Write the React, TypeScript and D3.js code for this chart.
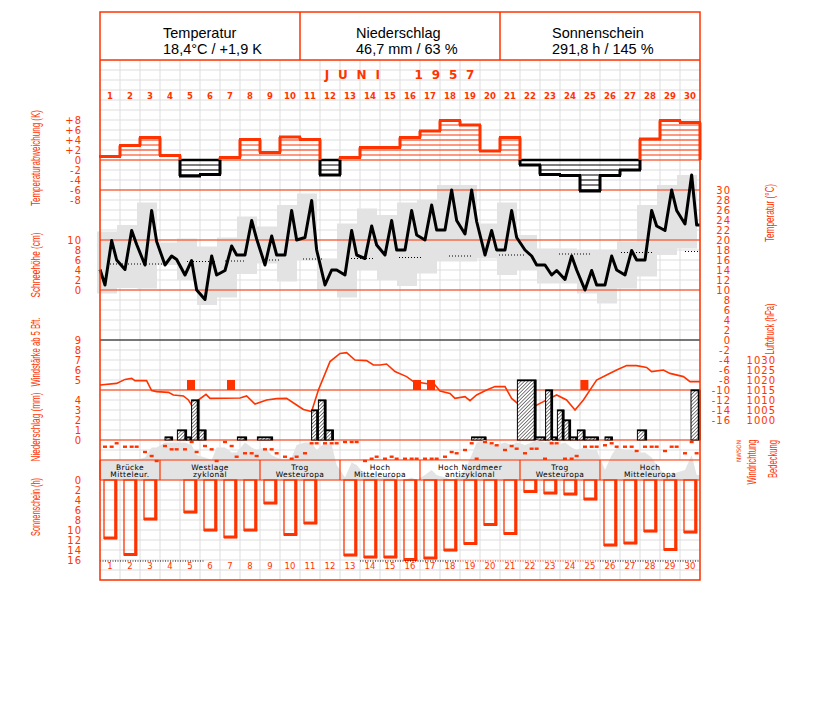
import React from "react";
import * as d3 from "d3";

// ---------------- DATA ----------------
const days = d3.range(1, 31);
const obsFrac = [0.25, 0.583, 0.833]; // 7h, 14h, 21h

const headerTitles = ["Temperatur", "Niederschlag", "Sonnenschein"];
const headerValues = ["18,4°C / +1,9 K", "46,7 mm / 63 %", "291,8 h / 145 %"];
const monthTitle = "JUNI  1957";

// daily temperature deviation (K)
const tempDev = [0.7, 2.9, 4.5, 0.9, -3.2, -2.9, 0.5, 4.1, 1.5, 4.6, 4.1, -3.0, 0.5, 2.5, 2.5, 4.5, 5.8, 7.9, 7.0, 1.8, 4.5, -1.0, -2.9, -3.1, -6.2, -3.1, -2.0, 4.2, 7.9, 7.5];

// temperature at 7h, 14h, 21h (°C)
const tempStart = 14.1;
const tempObs = [
  [11, 19.9, 16], [14.1, 21.9, 19.1], [15, 25.9, 19.7], [15, 16.8, 16.1], [13, 15.9, 10],
  [8.1, 16.8, 13], [13.9, 18.8, 17], [17, 23.9, 20.2], [15, 20.8, 17], [17, 25.9, 20],
  [20.5, 27.9, 18], [11, 14, 14], [13, 21.9, 17], [16.3, 22.8, 19], [17, 23.9, 18],
  [18, 25.9, 21], [20, 27, 22], [22, 30, 23.9], [21.2, 30, 23.7], [17, 21.9, 18],
  [18, 25.9, 20.5], [18, 16.8, 15], [15, 13, 13.9], [12.1, 16.8, 14], [10, 13.9, 11],
  [11, 16.8, 14], [13, 17.9, 16], [16, 25.9, 22.8], [21.9, 30, 25.9], [23.2, 33, 23],
];
// daily min / max (gray boxes)
const tempMin = [9.3, 10.4, 10.3, 15, 12, 7, 8.5, 13.2, 15.3, 11.7, 16, 10, 8.5, 14, 12, 10.8, 13.3, 15.7, 15.7, 16.3, 13, 14, 11.3, 11.3, 9.3, 7.3, 10.3, 12.7, 17, 18.3];
const tempMax = [21.7, 23, 27.5, 19.5, 20.3, 18.7, 20.5, 24.7, 22.7, 27, 29.3, 16.3, 23.3, 26.3, 25, 27.5, 28, 31, 31, 23.3, 27.5, 21, 18.3, 18.3, 18, 18, 19.7, 27, 31, 33];
// long-term normal (dotted)
const normStart = [0.5, 4.35, 6.25, 8.15, 10.15, 12.4, 14.95, 17.45, 19.95, 22.95, 26.05, 29.25];
const normEnd = [3.15, 5.85, 7.2, 9.0, 11.2, 13.7, 16.1, 18.6, 21.25, 24.5, 27.6, 30];
const normVal = [15.2, 15.7, 15.8, 16, 16.2, 16.3, 16.5, 16.8, 17, 17.2, 17.5, 17.7];

// air pressure [day time, hPa]
const pressure = [
  [0, 1017.5], [0.83, 1018.3], [1.25, 1020.3], [1.58, 1020.8], [1.75, 1019.7], [2.33, 1019.7],
  [2.58, 1014.7], [2.83, 1014.2], [3.42, 1013.8], [3.67, 1012.5], [4.17, 1012], [4.42, 1010],
  [4.58, 1007.5], [4.92, 1010], [5.3, 1012.8], [5.5, 1010.8], [7.0, 1011], [7.33, 1012],
  [7.75, 1008], [8.33, 1010], [8.83, 1010.7], [9.33, 1010.8], [9.83, 1007.5], [10.17, 1005.3],
  [10.58, 1004.2], [10.92, 1015], [11.5, 1029.2], [12.0, 1033.3], [12.33, 1033.7], [12.75, 1030],
  [13.33, 1029.7], [13.67, 1027.5], [14.0, 1027.5], [14.33, 1028], [14.75, 1024.2], [15.33, 1021.7],
  [15.67, 1019.2], [16.75, 1017.5], [17.0, 1014.5], [17.5, 1013.3], [17.75, 1010.8], [18.25, 1011.7],
  [18.5, 1009.7], [18.83, 1012.5], [19.33, 1015], [19.75, 1016.7], [20.25, 1016.7], [20.58, 1010.8],
  [20.92, 1008], [21.42, 1005.8], [21.75, 1007], [22.17, 1009.2], [22.83, 1012.5], [23.33, 1010],
  [23.75, 1005], [24.17, 1010], [24.83, 1020], [25.33, 1022.5], [25.83, 1025], [26.33, 1027.2],
  [26.83, 1027.2], [27.33, 1026.3], [27.58, 1024.2], [28.17, 1025], [28.5, 1023.3], [29.17, 1021.7],
  [29.5, 1019.2], [30, 1019.2],
];

// wind force >= 5 Bft
const windT = [4.55, 6.55, 15.85, 16.55, 24.22];
const windBft = [5, 5, 5, 5, 5];

// precipitation [from, to, mm]
const precip = [
  [3.25, 3.63, 0.3], [3.87, 4.33, 1.0], [4.33, 4.58, 0.3], [4.58, 4.95, 4.0], [4.95, 5.3, 1.0],
  [6.87, 7.33, 0.3], [7.87, 8.63, 0.3], [10.58, 10.92, 3.0], [10.92, 11.3, 4.0], [11.3, 11.67, 1.0],
  [18.58, 19.3, 0.3], [20.87, 21.8, 6.0], [21.8, 22.28, 0.3], [22.28, 22.63, 5.0], [22.63, 22.87, 0.3],
  [22.87, 23.2, 3.0], [23.2, 23.53, 2.0], [23.53, 23.87, 0.3], [23.87, 24.25, 1.0], [24.25, 24.92, 0.3],
  [25.25, 25.62, 0.3], [26.87, 27.33, 1.0], [29.55, 30, 5.0],
];

// wind direction (degrees) at 7h, 14h, 21h
const windDir = [
  [103, 103, 41], [103, 103, 103], [198, 270, 360], [90, 150, 150], [150, 18, 198],
  [90, 150, 360], [18, 90, 283], [221, 221, 270], [150, 150, 221], [283, 319, 283],
  [221, 41, 41], [41, 41, 41], [18, 18, 18], [360, 319, 283], [319, 283, 319],
  [319, 319, 319], [319, 319, 319], [283, 198, 221], [162, 41, 319], [18, 41, 77],
  [162, 90, 139], [221, 139, 139], [319, 41, 41], [319, 319, 270], [103, 103, 103],
  [77, 41, 103], [103, 103, 180], [103, 103, 103], [180, 103, 103], [221, 18, 221],
];

// cloud cover (octas) at 7h, 14h, 21h
const cloud = [
  [4, 4, 4], [4, 4, 4], [4.5, 6.5, 6.5], [7.5, 7.5, 7.5], [7.5, 7, 5],
  [4.5, 4, 6.5], [6.5, 5.5, 5.5], [7.5, 6.5, 6], [6.5, 5, 4.5], [4, 4.5, 7],
  [7.5, 7.5, 6], [7.5, 7, 3], [0.5, 3.5, 3], [1, 1, 0.5], [0.5, 1, 0],
  [0, 0.5, 0], [1, 2, 1], [0.5, 0, 0.5], [2, 5, 7.5], [8, 7, 7],
  [7.5, 7, 7.5], [7, 7.5, 8], [7.5, 8, 7], [7.5, 6.5, 6], [6.5, 6, 6],
  [2, 5, 6.5], [6, 6, 5.5], [5.5, 4.5, 3], [1, 1, 1.5], [2, 5, 1],
];

// sunshine hours
const sunshine = [11.7, 15, 7.9, 0, 6.5, 10.1, 11.5, 10.1, 4.7, 11, 8.7, 0, 15.1, 15.5, 15.5, 16, 15.7, 14.1, 12.8, 9, 10.8, 2.4, 2.7, 2.9, 3.9, 13.1, 12.7, 10.3, 14, 10.5];

// weather types
const wtStart = [0, 3, 8, 12, 16, 21, 25];
const wtEnd = [3, 8, 12, 16, 21, 25, 30];
const wtLine1 = ["Brücke", "Westlage", "Trog", "Hoch", "Hoch Nordmeer", "Trog", "Hoch"];
const wtLine2 = ["Mitteleur.", "zyklonal", "Westeuropa", "Mitteleuropa", "antizyklonal", "Westeuropa", "Mitteleuropa"];

// tick labels
const devTicks = [8, 6, 4, 2, 0, -2, -4, -6, -8];
const snowTicks = [10, 8, 6, 4, 2, 0];
const tempTicks = d3.range(30, -17, -2);
const presTicks = [1030, 1025, 1020, 1015, 1010, 1005, 1000];
const bftTicks = [9, 8, 7, 6, 5];
const precipTicks = [4, 3, 2, 1, 0];
const sunTicks = [0, 2, 4, 6, 8, 10, 12, 14, 16];
const dirLabels = "NWSON";

// ---------------- STYLE ----------------
const RED = "#ff3300";
const GRID = "#dddddd";
const GRAY = "#e3e3e3";
const NUMFONT = "'DejaVu Sans', sans-serif";
const TXTFONT = "'Liberation Sans', Arial, sans-serif";

const X0 = 100, X1 = 700;
const x = d3.scaleLinear().domain([0, 30]).range([X0, X1]);
const devY = d3.scaleLinear().domain([-8, 8]).range([200, 120]);
const tempY = d3.scaleLinear().domain([-16, 30]).range([420, 190]);
const snowY = d3.scaleLinear().domain([0, 10]).range([290, 240]);
const bftY = d3.scaleLinear().domain([4, 9]).range([390, 340]);
const presY = d3.scaleLinear().domain([1000, 1030]).range([420, 360]);
const precipY = d3.scaleLinear().domain([0, 6]).range([440, 380]);
const dirY = d3.scaleLinear().domain([0, 360]).range([441, 461]);
const cloudY = d3.scaleLinear().domain([0, 8]).range([480, 440]);
const sunY = d3.scaleLinear().domain([0, 16]).range([480, 560]);

const headerX = [163, 356, 552];

function VLabel({ x: cx, y: cy, len, text, size = 12.5 }: any) {
  return (
    <text transform={`translate(${cx},${cy}) rotate(-90)`} textAnchor="middle" dominantBaseline="central"
      fontFamily={TXTFONT} fontSize={size} fill={RED} textLength={len} lengthAdjust="spacingAndGlyphs">
      {text}
    </text>
  );
}

export default function App() {
  const gridV = d3.range(0, 31);
  const gridH = d3.range(60, 581, 10);

  const tempPts: [number, number][] = [[0, tempStart]];
  tempObs.forEach((d, i) => d.forEach((v, j) => tempPts.push([i + obsFrac[j], v])));
  tempPts.push([30, tempObs[29][2]]);
  const tempLine = d3.line<[number, number]>().x(d => x(d[0])).y(d => tempY(d[1]))(tempPts) || "";

  const presLine = d3.line<number[]>().x(d => x(d[0])).y(d => presY(d[1]))(pressure as any) || "";

  const cloudPts: [number, number][] = [[0, cloud[0][0]]];
  cloud.forEach((d, i) => d.forEach((v, j) => cloudPts.push([i + obsFrac[j], v])));
  cloudPts.push([30, cloud[29][2]]);
  const cloudArea = d3.area<[number, number]>().x(d => x(d[0])).y0(480).y1(d => cloudY(d[1]))(cloudPts) || "";

  const devEls: any[] = [];
  tempDev.forEach((v, i) => {
    const xa = x(i), xb = x(i + 1);
    const col = v >= 0 ? RED : "#000";
    const s = v >= 0 ? 1 : -1;
    for (let k = 1; k < Math.abs(v); k++) {
      devEls.push(<line key={`h${i}-${k}`} x1={xa} x2={xb} y1={devY(s * k)} y2={devY(s * k)} stroke={col} strokeWidth={1} />);
    }
    if (v < 0) devEls.push(<line key={`z${i}`} x1={xa} x2={xb} y1={devY(0)} y2={devY(0)} stroke="#000" strokeWidth={2.5} />);
    devEls.push(<line key={`t${i}`} x1={xa - 1} x2={xb + 1} y1={devY(v)} y2={devY(v)} stroke={col} strokeWidth={3} />);
  });
  for (let i = 1; i <= 30; i++) {
    const a = tempDev[i - 1];
    const b = i < 30 ? tempDev[i] : 0;
    const xv = x(i);
    if ((a >= 0) === (b >= 0) || b === 0) {
      devEls.push(<line key={`v${i}`} x1={xv} x2={xv} y1={devY(a)} y2={devY(b)} stroke={a >= 0 ? RED : "#000"} strokeWidth={3} />);
    } else {
      devEls.push(<line key={`va${i}`} x1={xv} x2={xv} y1={devY(a)} y2={devY(0)} stroke={a >= 0 ? RED : "#000"} strokeWidth={3} />);
      devEls.push(<line key={`vb${i}`} x1={xv} x2={xv} y1={devY(0)} y2={devY(b)} stroke={b >= 0 ? RED : "#000"} strokeWidth={3} />);
    }
  }

  const numLabel = (key: string, xx: number, yy: number, t: string, anchor = "end") => (
    <text key={key} x={xx} y={yy} dy="0.35em" textAnchor={anchor} fontFamily={NUMFONT} fontSize={10}
      fill={RED} letterSpacing={1}>{t}</text>
  );

  return (
    <svg width={827} height={702} style={{ position: "absolute", left: 0, top: 0, background: "#fff" }}>
      <defs>
        <pattern id="hatch" width="2.5" height="2.5" patternUnits="userSpaceOnUse" patternTransform="rotate(45)">
          <rect width="2.5" height="2.5" fill="#fff" />
          <line x1="0" y1="0" x2="0" y2="2.5" stroke="#000" strokeWidth="1" />
        </pattern>
      </defs>
      <rect x={0} y={0} width={827} height={702} fill="#fff" />

      {gridV.map(i => <line key={`gv${i}`} x1={x(i)} x2={x(i)} y1={60} y2={580} stroke={GRID} strokeWidth={1} />)}
      {gridH.map(y => <line key={`gh${y}`} x1={X0} x2={X1} y1={y} y2={y} stroke={GRID} strokeWidth={1} />)}

      {days.map((d, i) => (
        <rect key={`mm${d}`} x={x(i - 0.15)} width={x(1) - x(0)} y={tempY(tempMax[i])}
          height={tempY(tempMin[i]) - tempY(tempMax[i])} fill={GRAY} />
      ))}

      {[160, 190, 240, 290, 390, 440].map(y => <line key={`rl${y}`} x1={X0} x2={X1} y1={y} y2={y} stroke={RED} strokeWidth={1.2} />)}
      <line x1={X0} x2={X1} y1={340} y2={340} stroke="#000" strokeWidth={1.2} />

      {normVal.map((v, i) => (
        <line key={`n${i}`} x1={x(normStart[i])} x2={x(normEnd[i])} y1={tempY(v)} y2={tempY(v)} stroke="#000" strokeWidth={1} strokeDasharray="1,2" />
      ))}

      <path d={tempLine} fill="none" stroke="#000" strokeWidth={3} strokeLinejoin="round" />

      {devEls}

      {windT.map((t, i) => (
        <rect key={`w${i}`} x={x(t) - 4} width={8} y={bftY(windBft[i])} height={bftY(4) - bftY(windBft[i])} fill={RED} />
      ))}
      <path d={presLine} fill="none" stroke={RED} strokeWidth={1.6} />

      {precip.map((p, i) => {
        const xa = x(p[0]), xb = x(p[1]), yt = precipY(p[2]);
        return (
          <g key={`p${i}`}>
            <rect x={xa} y={yt} width={xb - xa} height={440 - yt} fill="url(#hatch)" stroke="#000" strokeWidth={1} />
            <line x1={xb - 1} x2={xb - 1} y1={yt} y2={440} stroke="#000" strokeWidth={2.5} />
            <line x1={xa} x2={xb} y1={yt + 0.5} y2={yt + 0.5} stroke="#000" strokeWidth={1.5} />
          </g>
        );
      })}

      <rect x={X0} y={460} width={X1 - X0} height={20} fill="#fff" />
      <path d={cloudArea} fill={GRAY} />
      {windDir.map((d, i) => d.map((v, j) => (
        <rect key={`wd${i}-${j}`} x={x(i + obsFrac[j]) - 2} y={dirY(v) - 1.2} width={4} height={2.4} fill={RED} />
      )))}
      {[460, 480].map(y => <line key={`wl${y}`} x1={X0} x2={X1} y1={y} y2={y} stroke={RED} strokeWidth={1.2} />)}
      {wtStart.map((s, i) => (
        <g key={`wt${i}`}>
          <line x1={x(s)} x2={x(s)} y1={460} y2={480} stroke={RED} strokeWidth={1.2} />
          <text textAnchor="middle" fontFamily={NUMFONT} fontSize={7.5} fill="#000" letterSpacing={0.4}>
            <tspan x={(x(s) + x(wtEnd[i])) / 2} y={469.5}>{wtLine1[i]}</tspan>
            <tspan x={(x(s) + x(wtEnd[i])) / 2} y={477.3}>{wtLine2[i]}</tspan>
          </text>
        </g>
      ))}

      {sunshine.map((h, i) => h > 0 ? (
        <g key={`s${i}`}>
          <rect x={x(i + 0.2)} y={480} width={x(i + 0.833) - x(i + 0.2)} height={sunY(h) - 480} fill="none" stroke={RED} strokeWidth={1.3} />
          <line x1={x(i + 0.833) - 1} x2={x(i + 0.833) - 1} y1={480} y2={sunY(h)} stroke={RED} strokeWidth={3} />
          <line x1={x(i + 0.2)} x2={x(i + 0.833) + 0.5} y1={sunY(h) - 0.5} y2={sunY(h) - 0.5} stroke={RED} strokeWidth={3} />
        </g>
      ) : null)}
      <line x1={x(0)} x2={x(5.25)} y1={561} y2={561} stroke="#000" strokeDasharray="1,1.5" />
      <line x1={x(13)} x2={x(18)} y1={561} y2={561} stroke="#000" strokeDasharray="1,1.5" />
      <line x1={x(18)} x2={x(25)} y1={561} y2={561} stroke={RED} strokeDasharray="1,1.5" />
      <line x1={x(25)} x2={x(30)} y1={561} y2={561} stroke="#000" strokeDasharray="1,1.5" />

      <rect x={X0} y={12} width={X1 - X0} height={48} fill="#fff" />
      {headerTitles.map((t, i) => (
        <g key={`hd${i}`}>
          <text x={headerX[i]} y={38} textAnchor="start" fontFamily={TXTFONT} fontSize={14.5} fill="#000">{t}</text>
          <text x={headerX[i]} y={54} textAnchor="start" fontFamily={TXTFONT} fontSize={14.5} fill="#000">{headerValues[i]}</text>
        </g>
      ))}
      <line x1={x(10)} x2={x(10)} y1={12} y2={60} stroke={RED} strokeWidth={1.5} />
      <line x1={x(20)} x2={x(20)} y1={12} y2={60} stroke={RED} strokeWidth={1.5} />
      <line x1={X0} x2={X1} y1={60} y2={60} stroke={RED} strokeWidth={1.5} />
      <text x={404} y={79} textAnchor="middle" fontFamily={NUMFONT} fontWeight="bold" fontSize={12} fill={RED} letterSpacing={8.8} style={{ whiteSpace: "pre" }}>{monthTitle}</text>
      {days.map((d, i) => (
        <g key={`dl${d}`}>
          <text x={x(i + 0.5)} y={99} textAnchor="middle" fontFamily={NUMFONT} fontSize={8.5} fontWeight="bold" fill={RED}>{d}</text>
          <text x={x(i + 0.5)} y={569} textAnchor="middle" fontFamily={NUMFONT} fontSize={8.5} fill={RED}>{d}</text>
        </g>
      ))}

      <rect x={X0} y={12} width={X1 - X0} height={568} fill="none" stroke={RED} strokeWidth={1.5} />

      {devTicks.map(v => numLabel(`dt${v}`, 82, devY(v), v > 0 ? `+${v}` : `${v}`))}
      {snowTicks.map(v => numLabel(`sn${v}`, 82, snowY(v), `${v}`))}
      {bftTicks.map(v => numLabel(`bf${v}`, 82, bftY(v), `${v}`))}
      {precipTicks.map(v => numLabel(`pr${v}`, 82, precipY(v), `${v}`))}
      {sunTicks.map(v => numLabel(`su${v}`, 82, sunY(v), `${v}`))}
      {tempTicks.map(v => numLabel(`tt${v}`, 731, tempY(v), `${v}`))}
      {presTicks.map(v => numLabel(`pt${v}`, 776, presY(v), `${v}`))}
      <text transform={`translate(738,451) rotate(-90)`} textAnchor="middle" dominantBaseline="central" fontFamily={NUMFONT} fontSize={6} fill={RED} textLength={22} lengthAdjust="spacingAndGlyphs">{dirLabels}</text>

      <VLabel x={36} y={158} len={96} text="Temperaturabweichung (K)" />
      <VLabel x={36} y={265} len={65} text="Schneehöhe (cm)" />
      <VLabel x={36} y={352} len={69} text="Windstärke ab 5 Bft." />
      <VLabel x={36} y={427} len={69} text="Niederschlag (mm)" />
      <VLabel x={36} y={507} len={58} text="Sonnenschein (h)" />
      <VLabel x={770} y={213} len={58} text="Temperatur (°C)" />
      <VLabel x={770} y={329} len={51} text="Luftdruck (hPa)" />
      <VLabel x={752} y={462} len={45} text="Windrichtung" />
      <VLabel x={773} y={459} len={38} text="Bedeckung" />
    </svg>
  );
}
